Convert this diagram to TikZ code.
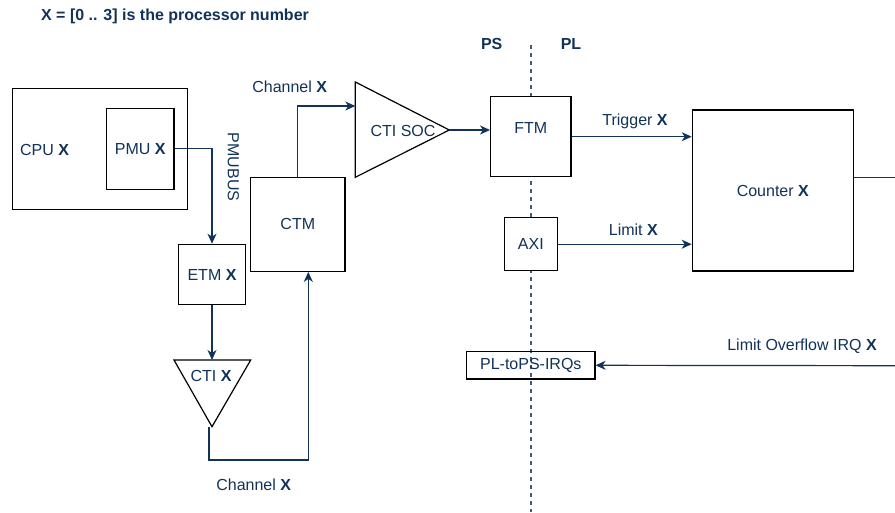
\documentclass[tikz,border=0pt]{standalone}
\usepackage{fontspec}
\setmainfont{Liberation Sans}
\usetikzlibrary{arrows.meta}
\definecolor{navy}{RGB}{18,50,90}

\begin{document}
\begin{tikzpicture}[x=1pt,y=-1pt,
	every node/.style={text=navy,font=\fontsize{16}{19}\selectfont},
	blk/.style={draw=black,line width=1.2pt,fill=white,inner sep=0pt},
	tri/.style={draw=black,line width=1.2pt,fill=white,line join=miter},
	link/.style={draw=navy,line width=1.2pt,-{Stealth[length=10pt,width=9pt,inset=3pt]}},
	wire/.style={draw=navy,line width=1.2pt},
	sep/.style={draw=navy!80,line width=1.1pt,dash pattern=on 4pt off 4pt}]
%
	\useasboundingbox (0,0) rectangle (895,512);
	\node (title) at (175,16) {\bfseries X = [0 .. 3] is the processor number};
	\node (ps) at (491.7,44) {\bfseries PS};
	\node (pl) at (571,44) {\bfseries PL};
	\draw[sep] (531,45) -- (531,512);
%
	\node[blk,minimum width=175pt,minimum height=120.6pt] (cpu) at (99.8,149) {};
	\node (cpulbl) at (44.5,150) {CPU \textbf{X}};
	\node[blk,minimum width=67.3pt,minimum height=81pt] (pmu) at (140.3,148.8) {PMU \textbf{X}};
	\node[blk,minimum width=67.7pt,minimum height=60.4pt] (etm) at (212,274.5) {ETM \textbf{X}};
	\node[blk,minimum width=94.3pt,minimum height=94pt] (ctm) at (297.8,224.3) {CTM};
	\node[blk,minimum width=80.3pt,minimum height=80pt] (ftm) at (530.8,136.7) {};
	\node (ftmlbl) at (530.8,128.3) {FTM};
	\node[blk,minimum width=53pt,minimum height=53pt] (axi) at (530.8,244.2) {AXI};
	\node[blk,minimum width=161pt,minimum height=161pt] (counter) at (772.8,190.5) {Counter \textbf{X}};
	\node[blk,fill=none,minimum width=128.3pt,minimum height=27.3pt] (irq) at (530.8,365.3) {PL-toPS-IRQs};
%
	\draw[tri] (355.3,82) -- (449.3,130) -- (355.3,177.3) -- cycle;
	\node (soc) at (403,130.7) {CTI SOC};
	\coordinate (socin) at (355.3,106);
	\coordinate (socout) at (449.3,130);
	\draw[tri] (174,360) -- (250.7,360) -- (212,426.7) -- cycle;
	\node (cti) at (211,376) {CTI \textbf{X}};
	\coordinate (ctiin) at (212,360);
	\coordinate (ctiout) at (209,427);
	\coordinate (cntout) at (895,177.3);
	\coordinate (irqin) at (895,365.7);
%
	\draw[link] (pmu.east) -| (etm.north);
	\node[rotate=-90] (pmubus) at (233.5,167) {PMUBUS};
	\draw[link] (etm.south) -- (ctiin);
	\draw[link] (ctiout) -- (209,460) -| ([xshift=10.5pt]ctm.south);
	\node (chbot) at (253.7,485) {Channel \textbf{X}};
	\draw[link] (ctm.north) |- (socin);
	\node (chtop) at (289.7,87) {Channel \textbf{X}};
	\draw[link] (socout) -- (socout -| ftm.west);
	\draw[link] (ftm.east) -- (ftm.east -| counter.west);
	\node (trig) at (635,121.7) {Trigger \textbf{X}};
	\draw[link] (axi.east) -- (axi.east -| counter.west);
	\node (lim) at (633.3,230) {Limit \textbf{X}};
	\draw[wire] (counter.east |- cntout) -- (cntout);
	\draw[link] (irqin) -- (irq.east);
	\node (ovf) at (802,346.7) {Limit Overflow IRQ \textbf{X}};
%
\end{tikzpicture}
\end{document}
